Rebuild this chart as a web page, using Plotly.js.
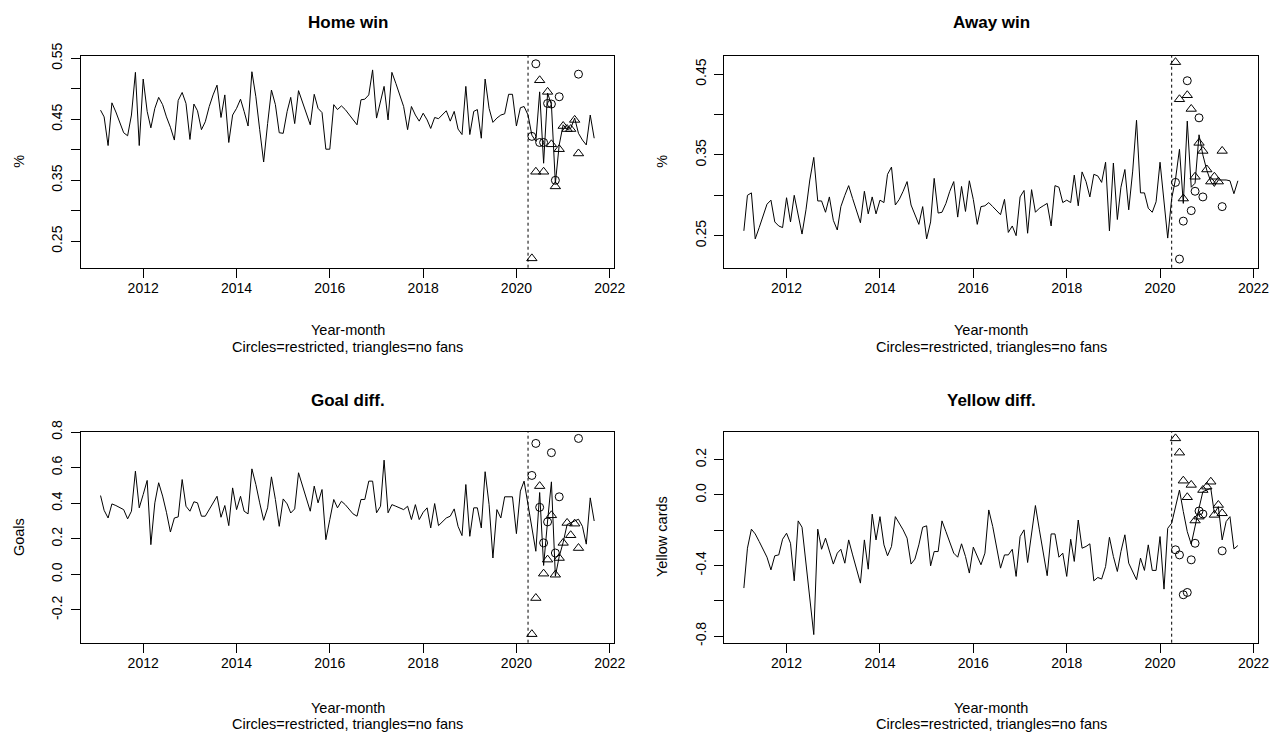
<!DOCTYPE html>
<html><head><meta charset="utf-8">
<script src="https://cdn.plot.ly/plotly-3.0.1.min.js"></script>
<style>html,body{margin:0;padding:0;background:#fff}#chart{width:1277px;height:733px}</style>
</head><body><div id="chart"></div>
<script>
// Monthly x axis: Feb 2011 .. Sep 2021
const firstMonth = '2011-02';
const nMonths = 128;
function buildMonths(start, n) {
  let [y, m] = start.split('-').map(Number); const out = [];
  for (let k = 0; k < n; k++) { out.push(y + '-' + String(m).padStart(2, '0')); m++; if (m > 12) { m = 1; y++; } }
  return out;
}
const months = buildMonths(firstMonth, nMonths);

const homeWin = [
  .465,.454,.407,.477,.462,.445,.428,.423,.457,.527,.407,
  .516,.463,.436,.468,.486,.474,.454,.437,.416,.481,.494,.476,
  .417,.475,.464,.433,.446,.471,.490,.506,.453,.490,.412,.457,
  .468,.483,.463,.439,.528,.487,.433,.380,.443,.498,.474,.428,
  .427,.463,.486,.443,.497,.479,.460,.441,.491,.468,.461,.401,
  .401,.474,.466,.472,.466,.457,.449,.441,.482,.483,.490,.531,
  .452,.482,.504,.449,.527,.509,.490,.471,.433,.471,.457,.447,
  .460,.449,.435,.453,.451,.457,.464,.447,.463,.434,.425,.504,
  .425,.463,.466,.419,.516,.468,.445,.452,.457,.459,.491,.491,
  .439,.469,.471,.457,.424,.414,.495,.378,.493,.474,.345,.408,
  .441,.433,.435,.452,.427,.416,.408,.457,.419
];
const awayWin = [
  .256,.300,.303,.246,.260,.275,.289,.294,.267,.262,.260,
  .297,.267,.300,.274,.252,.282,.319,.347,.293,.293,.279,.298,
  .269,.257,.286,.300,.312,.296,.281,.266,.305,.277,.298,.277,
  .294,.291,.326,.335,.288,.295,.305,.317,.288,.275,.264,.286,
  .246,.267,.321,.278,.279,.290,.305,.317,.273,.311,.280,.318,
  .295,.264,.286,.287,.291,.286,.281,.276,.295,.254,.262,.250,
  .298,.306,.253,.307,.279,.284,.287,.290,.262,.312,.310,.291,
  .294,.291,.325,.287,.329,.317,.298,.326,.324,.316,.341,.256,
  .340,.270,.310,.332,.282,.330,.393,.303,.303,.284,.279,.292,
  .341,.296,.247,.296,.320,.357,.290,.392,.310,.315,.375,.350,
  .331,.317,.311,.319,.319,.319,.318,.302,.318
];
const goalDiff = [
  .443,.360,.317,.396,.387,.377,.364,.312,.355,.580,.374,
  .449,.528,.167,.402,.515,.440,.349,.238,.317,.323,.533,.383,
  .355,.408,.402,.327,.327,.364,.402,.439,.321,.387,.274,.486,
  .364,.439,.355,.340,.593,.505,.402,.304,.374,.548,.421,.270,
  .424,.396,.345,.368,.571,.496,.421,.355,.496,.402,.477,.195,
  .308,.421,.374,.411,.392,.364,.340,.327,.421,.421,.524,.524,
  .346,.383,.642,.346,.392,.383,.374,.364,.383,.308,.392,.308,
  .349,.374,.261,.398,.274,.299,.317,.327,.368,.270,.218,.505,
  .214,.374,.374,.261,.577,.392,.092,.364,.317,.436,.436,.436,
  .229,.468,.524,.390,.270,.130,.460,.050,.300,.520,-.010,.100,
  .180,.280,.290,.300,.310,.270,.170,.430,.300
];
const yellowDiff = [
  -.528,-.302,-.194,-.221,-.264,-.308,-.353,-.425,-.345,-.340,-.251,
  -.217,-.274,-.487,-.147,-.183,-.387,-.594,-.792,-.194,-.308,-.245,-.311,
  -.392,-.330,-.308,-.387,-.255,-.340,-.425,-.500,-.255,-.421,-.109,-.255,
  -.123,-.283,-.345,-.292,-.123,-.160,-.198,-.245,-.392,-.364,-.283,-.183,
  -.175,-.402,-.321,-.321,-.147,-.208,-.274,-.330,-.353,-.277,-.349,-.443,
  -.296,-.349,-.396,-.330,-.085,-.179,-.302,-.415,-.340,-.340,-.308,-.462,
  -.236,-.198,-.383,-.226,-.060,-.198,-.321,-.458,-.221,-.221,-.353,-.330,
  -.462,-.251,-.377,-.142,-.302,-.292,-.277,-.487,-.468,-.477,-.406,-.240,
  -.349,-.434,-.321,-.226,-.387,-.434,-.481,-.358,-.428,-.283,-.428,-.428,
  -.236,-.534,-.189,-.160,-.075,.028,-.094,-.208,-.279,-.170,-.075,.019,
  .028,.038,-.104,-.066,-.255,-.151,-.123,-.306,-.287
];

// Subgroups after restart
const triMonths = ['2020-05','2020-06','2020-07','2020-08','2020-09','2020-10','2020-11','2020-12','2021-01','2021-02','2021-03','2021-04','2021-05'];
const circMonths = ['2020-05','2020-06','2020-07','2020-08','2020-09','2020-10','2020-11','2020-12','2021-05'];
const homeTri = [.222,.364,.514,.364,.495,.409,.340,.401,.439,.434,.434,.449,.394];
const homeCirc = [.422,.541,.412,.412,.476,.475,.350,.487,.524];
const awayTri = [.465,.419,.296,.424,.407,.323,.365,.355,.332,.317,.323,.317,.355];
const awayCirc = [.316,.221,.268,.442,.281,.305,.396,.298,.286];
const goalTri = [-.336,-.133,.496,.004,.083,.332,-.002,.092,.177,.289,.220,.285,.148];
const goalCirc = [.556,.736,.377,.177,.295,.684,.120,.436,.764];
const yellowTri = [.321,.240,.081,-.013,.057,-.145,-.123,.028,.047,.075,-.113,-.057,-.104];
const yellowCirc = [-.311,-.340,-.566,-.553,-.368,-.274,-.091,-.108,-.317];

const breakDate = '2020-04-01';
const yearTicks = ['2012-01-01','2014-01-01','2016-01-01','2018-01-01','2020-01-01','2022-01-01'];
const yearLabels = ['2012','2014','2016','2018','2020','2022'];

const panels = [
  {title:'Home win', ytitle:'%', line:homeWin, tri:homeTri, circ:homeCirc,
   yrange:[0.2067,0.5543], yticks:[.25,.30,.35,.40,.45,.50,.55], ylabels:['0.25','','0.35','','0.45','','0.55']},
  {title:'Away win', ytitle:'%', line:awayWin, tri:awayTri, circ:awayCirc,
   yrange:[0.2103,0.473], yticks:[.25,.30,.35,.40,.45], ylabels:['0.25','','0.35','','0.45']},
  {title:'Goal diff.', ytitle:'Goals', line:goalDiff, tri:goalTri, circ:goalCirc,
   yrange:[-0.384,0.803], yticks:[-.2,0,.2,.4,.6,.8], ylabels:['-0.2','0.0','0.2','0.4','0.6','0.8']},
  {title:'Yellow diff.', ytitle:'Yellow cards', line:yellowDiff, tri:yellowTri, circ:yellowCirc,
   yrange:[-0.838,0.36], yticks:[-.8,-.6,-.4,-.2,0,.2], ylabels:['-0.8','','-0.4','','0.0','0.2']}
];

const W = 1277, H = 733;
const boxes = [
  {l:81, r:614, t:55.7, b:267.7},
  {l:724.3, r:1257.7, t:55.7, b:267.7},
  {l:81, r:614, t:431.5, b:642.7},
  {l:724.3, r:1257.7, t:431.5, b:642.7}
];
const FONT = 'Liberation Sans, Arial, Helvetica, sans-serif';

const traces = [], layout = {
  width:W, height:H, margin:{l:0,r:0,t:0,b:0}, showlegend:false,
  paper_bgcolor:'#fff', plot_bgcolor:'#fff', font:{family:FONT, color:'#000', size:14},
  shapes:[], annotations:[]
};

panels.forEach((p, k) => {
  const n = k + 1, xs = 'x' + (n === 1 ? '' : n), ys = 'y' + (n === 1 ? '' : n);
  const bx = boxes[k];
  traces.push({x:months, y:p.line, type:'scatter', mode:'lines', xaxis:xs, yaxis:ys,
    line:{color:'#000', width:1}, hoverinfo:'skip'});
  traces.push({x:circMonths, y:p.circ, type:'scatter', mode:'markers', xaxis:xs, yaxis:ys,
    marker:{symbol:'circle-open', size:8, color:'#000', line:{width:1, color:'#000'}}});
  traces.push({x:triMonths, y:p.tri, type:'scatter', mode:'markers', xaxis:xs, yaxis:ys,
    marker:{symbol:'triangle-up-open', size:9, color:'#000', line:{width:1, color:'#000'}}});
  const xk = 'xaxis' + (n === 1 ? '' : n), yk = 'yaxis' + (n === 1 ? '' : n);
  layout[xk] = {domain:[bx.l / W, bx.r / W], anchor:ys, type:'date',
    range:['2010-09-01','2022-02-03'], tickmode:'array', tickvals:yearTicks, ticktext:yearLabels,
    ticks:'outside', ticklen:9, tickwidth:1, tickcolor:'#000', showline:true, mirror:true,
    linecolor:'#000', linewidth:1, showgrid:false, zeroline:false, fixedrange:true,
    ticklabelstandoff:-2,
    tickfont:{size:14, color:'#000', family:FONT}};
  layout[yk] = {domain:[1 - bx.b / H, 1 - bx.t / H], anchor:xs, range:p.yrange,
    tickmode:'array', tickvals:p.yticks, ticktext:p.ylabels, tickangle:-90,
    ticks:'outside', ticklen:9, tickwidth:1, tickcolor:'#000', showline:true, mirror:true,
    linecolor:'#000', linewidth:1, showgrid:false, zeroline:false, fixedrange:true,
    ticklabelstandoff:3,
    tickfont:{size:14, color:'#000', family:FONT}};
  layout.shapes.push({type:'line', xref:xs, yref:ys + ' domain', x0:breakDate, x1:breakDate, y0:0, y1:1,
    line:{color:'#000', width:1, dash:'dot'}});
  const cx = (bx.l + bx.r) / 2 / W;
  const top = k < 2 ? 22 : 400;
  const xl1 = k < 2 ? 330 : 708, xl2 = k < 2 ? 347 : 724;
  layout.annotations.push({text:'<b>' + p.title + '</b>', xref:'paper', yref:'paper', x:cx, y:1 - top / H,
    xanchor:'center', yanchor:'middle', showarrow:false, font:{size:17, family:FONT, color:'#000'}});
  layout.annotations.push({text:'Year-month', xref:'paper', yref:'paper', x:cx, y:1 - xl1 / H,
    xanchor:'center', yanchor:'middle', showarrow:false, font:{size:14.5, family:FONT, color:'#000'}});
  layout.annotations.push({text:'Circles=restricted, triangles=no fans', xref:'paper', yref:'paper', x:cx, y:1 - xl2 / H,
    xanchor:'center', yanchor:'middle', showarrow:false, font:{size:14.5, family:FONT, color:'#000'}});
  const ytx = (k % 2 === 0 ? 19 : 662) / W;
  const yty = 1 - ((bx.t + bx.b) / 2) / H;
  layout.annotations.push({text:p.ytitle, xref:'paper', yref:'paper', x:ytx, y:yty, textangle:-90,
    xanchor:'center', yanchor:'middle', showarrow:false, font:{size:14.5, family:FONT, color:'#000'}});
});

Plotly.newPlot('chart', traces, layout, {displayModeBar:false, staticPlot:true});
</script>
</body></html>
